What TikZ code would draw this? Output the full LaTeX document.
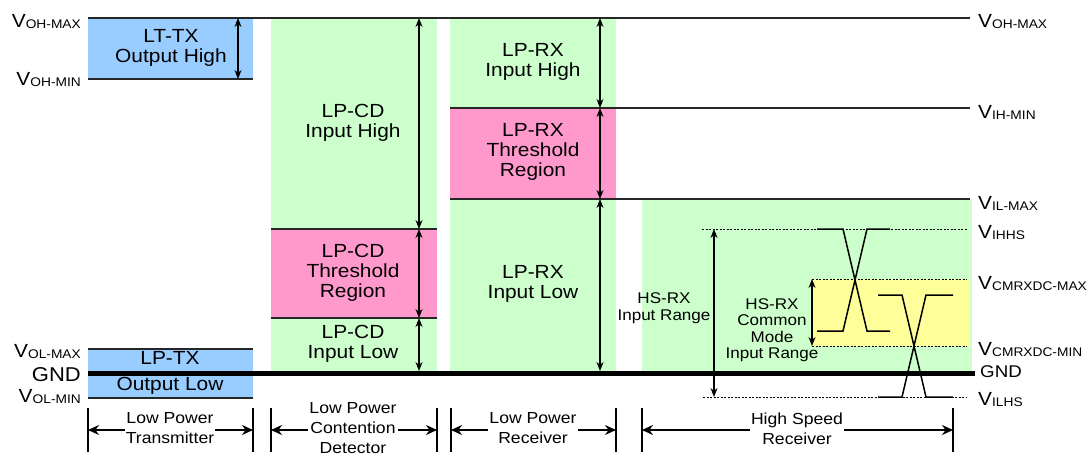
\documentclass[tikz,border=0pt]{standalone}
\usepackage{fontspec}
\setmainfont[FakeStretch=1.1]{Liberation Sans}
\usetikzlibrary{arrows.meta}
\definecolor{ltblue}{HTML}{99CCFF}
\definecolor{ltgreen}{HTML}{CCFFCC}
\definecolor{ltpink}{HTML}{FF99CC}
\definecolor{ltyellow}{HTML}{FFFF99}
\newcommand{\Vsub}[1]{V\raisebox{-1pt}{\fontsize{12.5}{12.5}\selectfont #1}}
\begin{document}
\begin{tikzpicture}[x=1pt,y=-1pt,
  level/.style={line width=1.3pt, black!85},
  dotline/.style={line width=0.9pt, dash pattern=on 2pt off 1.5pt},
  sig/.style={line width=1.5pt},
  varrow/.style={line width=1.1pt, {Stealth[length=9pt,width=7pt]}-{Stealth[length=9pt,width=7pt]}},
  darrow/.style={line width=1.2pt, {Stealth[length=11pt,width=10pt]}-{Stealth[length=11pt,width=10pt]}},
  tick/.style={line width=1.3pt},
  lbl/.style={font=\fontsize{19}{20}\selectfont, align=center, inner sep=0pt},
  dlbl/.style={font=\fontsize{16}{20}\selectfont, align=center, inner sep=1pt, fill=white},
  hslbl/.style={font=\fontsize{15.5}{16.5}\selectfont, align=center, inner sep=0pt},
  vl/.style={font=\fontsize{19}{19}\selectfont, inner sep=0pt, anchor=west},
  vr/.style={font=\fontsize{19}{19}\selectfont, inner sep=0pt, anchor=east}]
\useasboundingbox (0,0) rectangle (1089,455);
% colour regions
\fill[ltblue] (88,18) rectangle (253,79);
\fill[ltblue] (88,349) rectangle (253,398);
\fill[ltgreen] (271,18) rectangle (437,373);
\fill[ltpink] (271,229) rectangle (437,318);
\fill[ltgreen] (450,18) rectangle (616,373);
\fill[ltpink] (450,108) rectangle (616,199);
\fill[ltgreen] (642,199) rectangle (972,373);
\fill[ltyellow] (812,279) rectangle (970,346);
% level lines
\draw[level] (88,18) -- (970,18);
\draw[level] (88,79) -- (253,79);
\draw[level] (88,349) -- (253,349);
\draw[level] (88,398) -- (253,398);
\draw[level] (450,108) -- (970,108);
\draw[level] (450,199) -- (970,199);
\draw[level] (271,229) -- (437,229);
\draw[level] (271,318) -- (437,318);
% dotted HS levels
\draw[dotline] (702,229) -- (967,229);
\draw[dotline] (812,279) -- (967,279);
\draw[dotline] (812,346) -- (967,346);
\draw[dotline] (703,397) -- (967,397);
% signals
\draw[sig] (817,229) -- (843,229) -- (867,331) -- (890,331);
\draw[sig] (817,331) -- (843,331) -- (867,229) -- (890,229);
\draw[sig] (878,295) -- (902,295) -- (926,397) -- (953,397);
\draw[sig] (878,397) -- (902,397) -- (926,295) -- (953,295);
% GND
\draw[line width=5pt] (88,373) -- (975,373);
% arrow end points
\coordinate (tx1) at (238,18);  \coordinate (tx2) at (238,79);
\coordinate (cd1) at (419,18);  \coordinate (cd2) at (419,229);
\coordinate (cd3) at (419,318); \coordinate (cd4) at (419,371);
\coordinate (rx1) at (600,18);  \coordinate (rx2) at (600,108);
\coordinate (rx3) at (600,199); \coordinate (rx4) at (600,371);
\coordinate (hs1) at (714,229); \coordinate (hs2) at (714,397);
\coordinate (cm1) at (812,279); \coordinate (cm2) at (812,346);
\draw[varrow] (tx1) -- (tx2);
\draw[varrow] (cd1) -- (cd2);
\draw[varrow] (cd2) -- (cd3);
\draw[varrow] (cd3) -- (cd4);
\draw[varrow] (rx1) -- (rx2);
\draw[varrow] (rx2) -- (rx3);
\draw[varrow] (rx3) -- (rx4);
\draw[varrow] (hs1) -- (hs2);
\draw[varrow] (cm1) -- (cm2);
% region labels
\node[lbl] (ltx) at (171,48) {LT-TX\\Output High};
\node[lbl] (lptx) at (170,373) {LP-TX\\[6pt]Output Low};
\node[lbl] (cdh) at (353,123) {LP-CD\\Input High};
\node[lbl] (cdt) at (353,273) {LP-CD\\Threshold\\Region};
\node[lbl] (cdl) at (353,344) {LP-CD\\Input Low};
\node[lbl] (rxh) at (533,62) {LP-RX\\Input High};
\node[lbl] (rxt) at (533,152) {LP-RX\\Threshold\\Region};
\node[lbl] (rxl) at (533,284) {LP-RX\\Input Low};
\node[hslbl] (hsr) at (664,308) {HS-RX\\Input Range};
\node[hslbl] (hcm) at (772,330) {HS-RX\\Common\\Mode\\Input Range};
% left level labels
\node[vr] (l1) at (81,22) {\Vsub{OH-MAX}};
\node[vr] (l2) at (81,80) {\Vsub{OH-MIN}};
\node[vr] (l3) at (81,352) {\Vsub{OL-MAX}};
\node[vr, font=\fontsize{20}{20}\selectfont] (l4) at (81,375) {GND};
\node[vr] (l5) at (81,397) {\Vsub{OL-MIN}};
% right level labels
\node[vl] (r1) at (978,22) {\Vsub{OH-MAX}};
\node[vl] (r2) at (978,112) {\Vsub{IH-MIN}};
\node[vl] (r3) at (978,203) {\Vsub{IL-MAX}};
\node[vl] (r4) at (978,233) {\Vsub{IHHS}};
\node[vl] (r5) at (978,284) {\Vsub{CMRXDC-MAX}};
\node[vl] (r6) at (978,350) {\Vsub{CMRXDC-MIN}};
\node[vl, font=\fontsize{17}{17}\selectfont] (r7) at (980,372) {GND};
\node[vl] (r8) at (978,400) {\Vsub{ILHS}};
% bottom dimensions
\foreach \n/\xa/\xb in {t/88/253, c/271/437, r/451/616, h/642/953}{
  \coordinate (\n a) at (\xa,430);
  \coordinate (\n b) at (\xb,430);
  \draw[tick] (\xa,408) -- (\xa,452);
  \draw[tick] (\xb,408) -- (\xb,452);
  \draw[darrow] (\n a) -- (\n b);
}
\node[dlbl] (dt) at (170,428) {Low Power\\Transmitter};
\node[dlbl] (dc) at (353,428) {Low Power\\Contention\\Detector};
\node[dlbl] (dr) at (533,428) {Low Power\\Receiver};
\node[dlbl] (dh) at (797,429) {High Speed\\Receiver};
\end{tikzpicture}
\end{document}
